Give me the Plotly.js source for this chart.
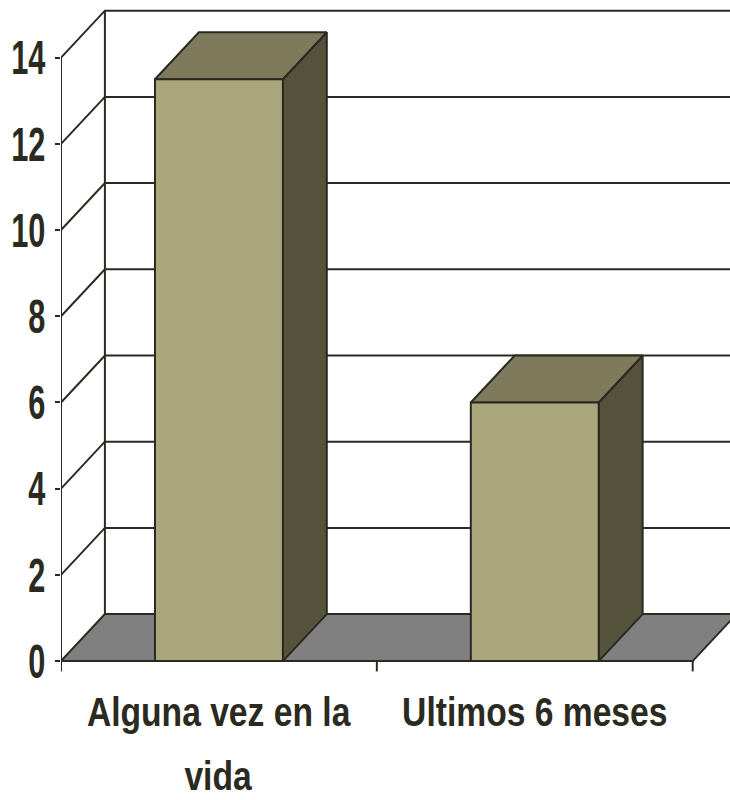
<!DOCTYPE html>
<html>
<head>
<meta charset="utf-8">
<script src="https://cdn.plot.ly/plotly-3.0.1.min.js"></script>
<style>html,body{margin:0;padding:0;background:#fff;}#chart{width:730px;height:800px;}</style>
</head>
<body>
<div id="chart"></div>
<script>
// ---- data ----
var categories = ["Alguna vez en la vida", "Ultimos 6 meses"];
var categoryLines = [["Alguna vez en la", "vida"], ["Ultimos 6 meses"]];
var values = [13.5, 6];
var yTicks = [0, 2, 4, 6, 8, 10, 12, 14];

// ---- 3D look parameters (in axis units) ----
var DX = 0.139;   // depth offset along x (category units)
var DY = 1.09;    // depth offset along y (value units)
var BW = 0.405;   // bar width
var XMIN = -0.5, XMAX = categories.length - 0.5;
var YMAX = yTicks[yTicks.length - 1];
var lineCol = "#2b2a21";
var textCol = "#2b2a21";
var FONT = "'Liberation Sans', Arial, sans-serif";

var idx = categories.map(function (_, i) { return i; });

function poly(x, y, fill) {
  return {x: x, y: y, mode: "lines", fill: "toself", fillcolor: fill,
    line: {color: lineCol, width: 2}, hoverinfo: "skip", showlegend: false};
}

// floor
var floorTrace = poly([XMIN, XMAX, XMAX + DX, XMIN + DX, XMIN], [0, 0, DY, DY, 0], "#808080");

// back wall gridlines + side wall diagonals + wall edge + front value axis
var gx = [], gy = [];
yTicks.forEach(function (t) {
  if (t > 0) { gx.push(XMIN, XMIN + DX, XMAX + DX + 1, null); gy.push(t, t + DY, t + DY, null); }
});
gx.push(XMIN + DX, XMIN + DX, null); gy.push(DY, YMAX + DY, null);
gx.push(XMIN, XMIN, null); gy.push(0, YMAX, null);
var gridTrace = {x: gx, y: gy, mode: "lines", line: {color: lineCol, width: 2},
  hoverinfo: "skip", showlegend: false};

// category boundary ticks below the floor edge
var tx = [], ty = [];
for (var k = 0; k <= categories.length; k++) { tx.push(XMIN + k, XMIN + k, null); ty.push(0, -0.24, null); }
var ctickTrace = {x: tx, y: ty, mode: "lines", line: {color: lineCol, width: 2},
  hoverinfo: "skip", showlegend: false};

// bar faces
var fx = [], fy = [], sx = [], sy = [], topx = [], topy = [];
idx.forEach(function (i) {
  var l = i - BW / 2, r = i + BW / 2, v = values[i];
  fx.push(l, r, r, l, l, null);           fy.push(0, 0, v, v, 0, null);
  sx.push(r, r + DX, r + DX, r, r, null); sy.push(0, DY, v + DY, v, 0, null);
  topx.push(l, r, r + DX, l + DX, l, null); topy.push(v, v, v + DY, v + DY, v, null);
});
var sideTrace = poly(sx, sy, "#55533c");
var topTrace = poly(topx, topy, "#7e7a5b");
var frontTrace = poly(fx, fy, "#a9a77b");

// category labels (one annotation per text line)
var lineY = [-0.057, -0.153];
var annotations = [];
categoryLines.forEach(function (lines, i) {
  lines.forEach(function (t, j) {
    annotations.push({x: i, xref: "x", y: lineY[j], yref: "paper", text: t,
      showarrow: false, xanchor: "center", yanchor: "middle",
      font: {family: FONT, size: 41, color: textCol, weight: "bold"}});
  });
});

var layout = {
  width: 730, height: 800,
  margin: {l: 61, r: 0, t: 5, b: 126},
  paper_bgcolor: "#ffffff", plot_bgcolor: "rgba(0,0,0,0)",
  showlegend: false,
  annotations: annotations,
  xaxis: {
    range: [XMIN, XMIN + 669 / 315.85],
    showticklabels: false, ticks: "", showgrid: false, zeroline: false, showline: false,
    fixedrange: true
  },
  yaxis: {
    range: [-0.3, -0.3 + 669 / 43.1],
    tickmode: "array", tickvals: yTicks,
    ticks: "outside", ticklen: 5, tickwidth: 2, tickcolor: lineCol,
    showgrid: false, zeroline: false, showline: false,
    tickfont: {family: FONT, size: 48, color: textCol, weight: "bold"},
    ticklabelstandoff: 0,
    fixedrange: true
  }
};

// emulate the narrow (condensed) typeface of the original
function condense(sel, f) {
  document.querySelectorAll(sel).forEach(function (el) {
    var L = el.getComputedTextLength();
    if (L > 0) {
      el.setAttribute("textLength", (L * f).toFixed(2));
      el.setAttribute("lengthAdjust", "spacingAndGlyphs");
    }
  });
}

Plotly.newPlot("chart", [floorTrace, gridTrace, sideTrace, topTrace, frontTrace, ctickTrace], layout,
  {staticPlot: true, displayModeBar: false}).then(function () {
  condense("#chart .ytick text", 0.64);
  condense("#chart .annotation-text", 0.82);
});
</script>
</body>
</html>
